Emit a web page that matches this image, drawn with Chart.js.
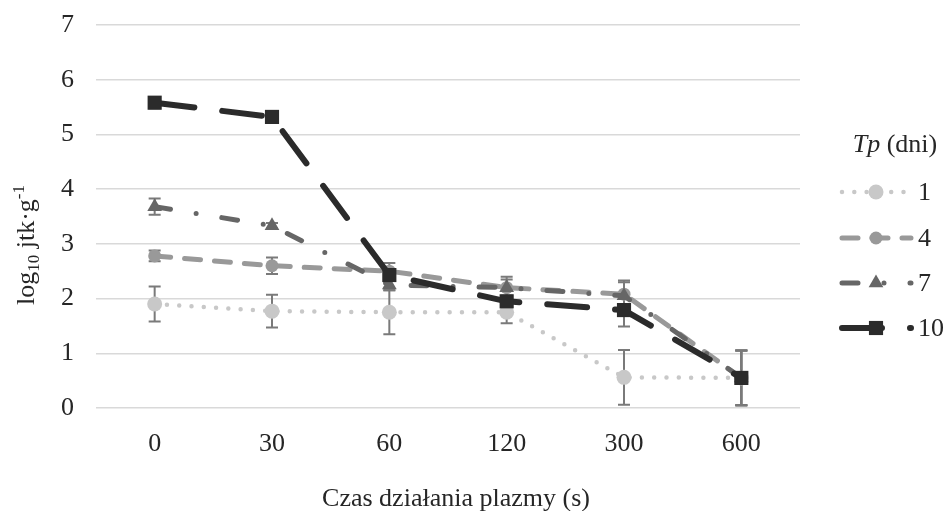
<!DOCTYPE html>
<html>
<head>
<meta charset="utf-8">
<script src="https://cdn.jsdelivr.net/npm/chart.js@4/dist/chart.umd.min.js"></script>
<style>
  html, body { margin: 0; padding: 0; background: #ffffff; }
  #wrap { width: 947px; height: 511px; }
</style>
</head>
<body>
<div id="wrap"><canvas id="c" width="947" height="511"></canvas></div>
<script>
// Plasma exposure time (s)
const czas = ['0', '30', '60', '120', '300', '600'];
const yTicks = [0, 1, 2, 3, 4, 5, 6, 7];

// log10 cfu per g for each storage time Tp (days)
const tp1  = [1.90, 1.77, 1.75, 1.75, 0.56, 0.55];
const tp4  = [2.78, 2.60, 2.50, 2.20, 2.08, 0.55];
const tp7  = [3.68, 3.33, 2.25, 2.20, 2.05, 0.55];
const tp10 = [5.58, 5.32, 2.43, 1.95, 1.79, 0.55];

// standard deviations (error bars)
const sd1  = [0.32, 0.30, 0.40, 0.20, 0.50, 0.50];
const sd4  = [0.10, 0.15, 0.15, 0.15, 0.25, 0.50];
const sd7  = [0.15, 0.05, 0.10, 0.20, 0.25, 0.50];
const sd10 = [0.10, 0.05, 0.10, 0.10, 0.30, 0.50];

const seriesNames = ['1', '4', '7', '10'];

const FONT = "'Liberation Serif', 'Times New Roman', serif";
const FS = 26;
const TEXT = '#262626';

const styles = [
  { color: '#c8c8c8', width: 4.5, dash: [0, 12.3], point: 'circle', r: 7.5 },
  { color: '#999999', width: 5,   dash: [16, 14], point: 'circle', r: 6.5 },
  { color: '#666666', width: 5,   dash: [16, 26, 0, 26], point: 'triangle', r: 8.5 },
  { color: '#2b2b2b', width: 6,   dash: [40, 28], point: 'rect', r: 10 }
];
const values = [tp1, tp4, tp7, tp10];
const errors = [sd1, sd4, sd7, sd10];

const datasets = values.map((v, i) => ({
  label: seriesNames[i],
  data: v,
  borderColor: styles[i].color,
  backgroundColor: styles[i].color,
  borderWidth: styles[i].width,
  borderDash: styles[i].dash,
  borderCapStyle: 'round',
  borderJoinStyle: 'round',
  tension: 0,
  pointStyle: styles[i].point,
  pointRadius: styles[i].r,
  pointHoverRadius: styles[i].r,
  pointBackgroundColor: styles[i].color,
  pointBorderColor: styles[i].color,
  pointBorderWidth: 0,
  order: values.length - i
}));

// Error bars with caps, drawn under the lines and markers
const errorBars = {
  id: 'errorBars',
  beforeDatasetsDraw(chart) {
    const ctx = chart.ctx;
    const y = chart.scales.y;
    ctx.save();
    ctx.strokeStyle = '#7a7a7a';
    ctx.lineWidth = 2;
    ctx.setLineDash([]);
    errors.forEach((errs, i) => {
      const meta = chart.getDatasetMeta(i);
      meta.data.forEach((pt, j) => {
        const v = values[i][j], e = errs[j];
        const top = y.getPixelForValue(v + e);
        const bot = y.getPixelForValue(v - e);
        const x = pt.x;
        ctx.beginPath();
        ctx.moveTo(x, top); ctx.lineTo(x, bot);
        ctx.moveTo(x - 6, top); ctx.lineTo(x + 6, top);
        ctx.moveTo(x - 6, bot); ctx.lineTo(x + 6, bot);
        ctx.stroke();
      });
    });
    ctx.restore();
  }
};

// Axis titles with sub/superscripts and the legend with line samples
const annotations = {
  id: 'annotations',
  afterDraw(chart) {
    const ctx = chart.ctx;
    ctx.save();
    ctx.fillStyle = TEXT;

    // x axis title
    ctx.font = `${FS}px ${FONT}`;
    ctx.textAlign = 'center';
    ctx.textBaseline = 'alphabetic';
    ctx.fillText('Czas działania plazmy (s)', 456, 506);

    // y axis title: log10 jtk·g-1 (rotated)
    ctx.save();
    ctx.translate(27, 245);
    ctx.rotate(-Math.PI / 2);
    const parts = [
      { t: 'log', size: FS, dy: 0 },
      { t: '10', size: 17, dy: 5 },
      { t: ' jtk·g', size: FS, dy: 0 },
      { t: '-1', size: 17, dy: -10 }
    ];
    let total = 0;
    parts.forEach(p => { ctx.font = `${p.size}px ${FONT}`; p.w = ctx.measureText(p.t).width; total += p.w; });
    let px = -total / 2;
    ctx.textAlign = 'left';
    ctx.textBaseline = 'alphabetic';
    parts.forEach(p => {
      ctx.font = `${p.size}px ${FONT}`;
      ctx.fillText(p.t, px, 7 + p.dy);
      px += p.w;
    });
    ctx.restore();

    // legend title: Tp (dni)
    ctx.textBaseline = 'middle';
    ctx.textAlign = 'left';
    ctx.font = `italic ${FS}px ${FONT}`;
    const w1 = ctx.measureText('Tp').width;
    ctx.font = `${FS}px ${FONT}`;
    const w2 = ctx.measureText(' (dni)').width;
    const tx = 895 - (w1 + w2) / 2;
    ctx.font = `italic ${FS}px ${FONT}`;
    ctx.fillText('Tp', tx, 145);
    ctx.font = `${FS}px ${FONT}`;
    ctx.fillText(' (dni)', tx + w1, 145);

    // legend entries
    const rows = [192, 238, 283, 328];
    const x0 = 842, x1 = 911, xm = 876;
    seriesNames.forEach((name, i) => {
      const s = styles[i];
      const yy = rows[i];
      ctx.save();
      ctx.strokeStyle = s.color;
      ctx.lineWidth = s.width;
      ctx.lineCap = 'round';
      ctx.setLineDash(s.dash);
      ctx.beginPath();
      ctx.moveTo(x0, yy); ctx.lineTo(x1, yy);
      ctx.stroke();
      ctx.restore();
      ctx.fillStyle = s.color;
      Chart.helpers.drawPoint(ctx, { pointStyle: s.point, radius: s.r, borderWidth: 0 }, xm, yy);
      ctx.fillStyle = TEXT;
      ctx.font = `${FS}px ${FONT}`;
      ctx.fillText(name, 918, yy + 1);
    });
    ctx.restore();
  }
};

new Chart(document.getElementById('c'), {
  type: 'line',
  data: { labels: czas, datasets },
  plugins: [errorBars, annotations],
  options: {
    responsive: false,
    animation: false,
    events: [],
    layout: { padding: { top: 25, right: 147, bottom: 0, left: 0 } },
    plugins: {
      legend: { display: false },
      tooltip: { enabled: false }
    },
    scales: {
      x: {
        offset: true,
        grid: { display: false },
        border: { display: false },
        ticks: { color: TEXT, font: { family: FONT, size: FS }, padding: 13, maxRotation: 0 },
        afterFit(scale) {
          scale.height = 103;
          scale.paddingLeft = 0; scale.paddingRight = 0;
          scale.paddingTop = 0; scale.paddingBottom = 0;
        }
      },
      y: {
        min: 0,
        max: 7,
        afterBuildTicks(scale) { scale.ticks = yTicks.map(v => ({ value: v })); },
        grid: { color: '#d9d9d9', lineWidth: 1.5, drawTicks: false },
        border: { display: false },
        ticks: { color: TEXT, font: { family: FONT, size: FS }, padding: 22 },
        afterFit(scale) {
          scale.width = 96;
          scale.paddingTop = 0; scale.paddingBottom = 0;
          scale.paddingLeft = 0; scale.paddingRight = 0;
        }
      }
    }
  }
});
</script>
</body>
</html>
